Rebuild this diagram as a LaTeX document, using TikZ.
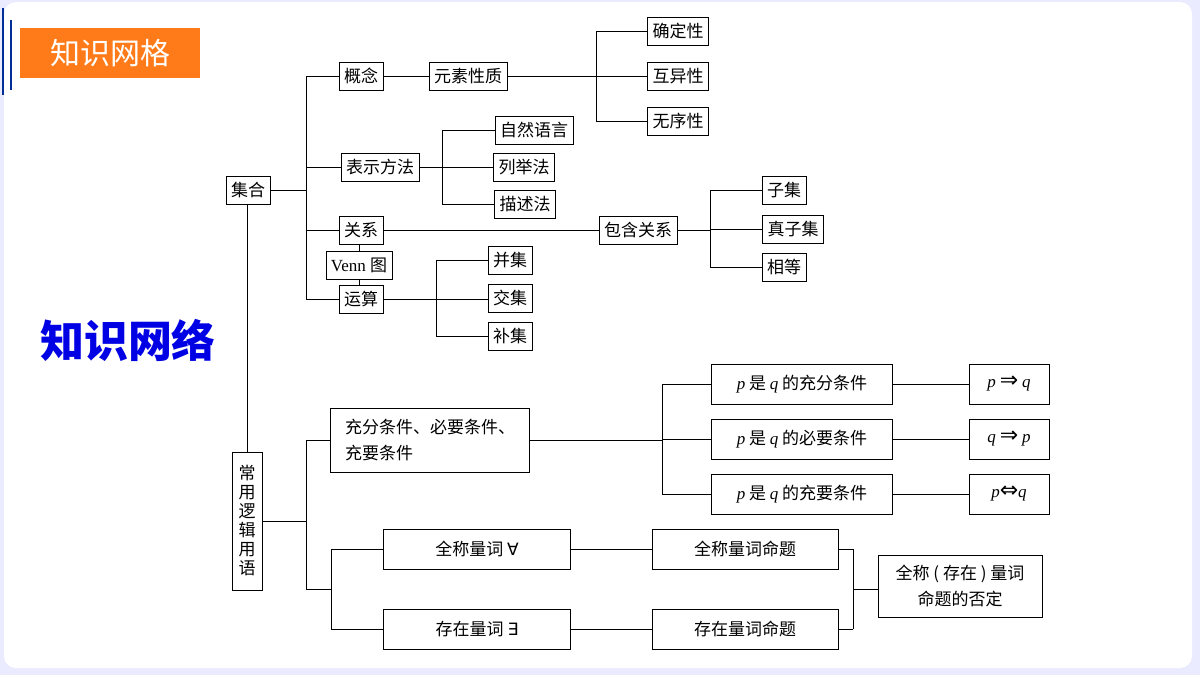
\documentclass[tikz,border=0pt]{standalone}
\usepackage{fontspec}
\setmainfont{Liberation Serif}
\newfontfamily\cjk{Noto Sans CJK SC}
\newfontfamily\sym{DejaVu Sans}
\newcommand{\vp}{{\rmfamily\itshape p}}
\newcommand{\vq}{{\rmfamily\itshape q}}
\newcommand{\arr}[1]{{\sym\fontsize{22}{22}\selectfont #1}}
\begin{document}
\begin{tikzpicture}[x=1pt,y=-1pt,
  bx/.style={draw,line width=0.8pt,minimum height=28pt,inner xsep=5pt,font=\fontsize{17}{20}\selectfont\cjk},
  bb/.style={bx,minimum height=40pt},
  ln/.style={line width=0.8pt}]
\useasboundingbox (0,0) rectangle (1200,675);
\fill[blue!8] (0,0) rectangle (1200,675);
\fill[white,rounded corners=12pt] (4,2) rectangle (1192,668);
\draw[blue!70!cyan!60!black,line width=2.5pt] (3,8) -- (3,95);
\draw[blue!70!cyan!60!black,line width=2pt] (11,20) -- (11,90);
\node[fill=orange!85!red!90,minimum width=180pt,minimum height=50pt,text=white,font=\fontsize{30}{34}\selectfont\cjk] (hd) at (110,53) {知识网格};
\node[text=blue!90!black,font=\fontsize{44}{50}\selectfont\cjk\bfseries] (kw) at (128,340) {知识网络};
% set tree
\node[bx] (jh) at (248,190) {集合};
\node[bx] (gn) at (361,76) {概念};
\node[bx] (ys) at (468,76) {元素性质};
\node[bx] (qd) at (678,31) {确定性};
\node[bx] (hy) at (678,76) {互异性};
\node[bx] (wx) at (678,121) {无序性};
\node[bx] (bs) at (380,167) {表示方法};
\node[bx] (zr) at (534,130) {自然语言};
\node[bx] (lj) at (524,167) {列举法};
\node[bx] (ms) at (525,204) {描述法};
\node[bx] (gx) at (361,230) {关系};
\node[bx] (vn) at (359,265) {\rmfamily Venn \cjk 图};
\node[bx] (ys2) at (361,299) {运算};
\node[bx] (bh) at (638,230) {包含关系};
\node[bx] (zj) at (784,190) {子集};
\node[bx] (zzj) at (793,229) {真子集};
\node[bx] (xd) at (784,267) {相等};
\node[bx] (bj) at (510,260) {并集};
\node[bx] (jj) at (510,298) {交集};
\node[bx] (bj2) at (510,336) {补集};
\draw[ln] (jh.east) -- (306,190);
\draw[ln] (306,76) -- (306,299);
\draw[ln] (306,76) -- (gn.west);
\draw[ln] (306,167) -- (bs.west);
\draw[ln] (306,230) -- (gx.west);
\draw[ln] (306,299) -- (ys2.west);
\draw[ln] (gn) -- (ys);
\draw[ln] (ys) -- (596,76);
\draw[ln] (596,31) -- (596,121);
\draw[ln] (596,31) -- (qd.west); \draw[ln] (596,76) -- (hy.west); \draw[ln] (596,121) -- (wx.west);
\draw[ln] (bs.east) -- (442,167);
\draw[ln] (442,130) -- (442,204);
\draw[ln] (442,130) -- (zr.west); \draw[ln] (442,167) -- (lj.west); \draw[ln] (442,204) -- (ms.west);
\draw[ln] (gx) -- (bh);
\draw[ln] (gx.south -| vn.north) -- (vn.north);
\draw[ln] (vn.south) -- (vn.south |- ys2.north);
\draw[ln] (bh.east) -- (710,230);
\draw[ln] (710,190) -- (710,267);
\draw[ln] (710,190) -- (zj.west); \draw[ln] (710,229) -- (zzj.west); \draw[ln] (710,267) -- (xd.west);
\draw[ln] (ys2.east) -- (bj2.west |- ys2.east);
\draw[ln] (436,260) -- (436,336);
\draw[ln] (436,260) -- (bj.west); \draw[ln] (436,336) -- (bj2.west);
% logic
\node[draw,line width=0.8pt,minimum width=30pt,minimum height=138pt,inner sep=2pt,align=center,font=\fontsize{17}{19}\selectfont\cjk] (cy) at (247,521) {常\\用\\逻\\辑\\用\\语};
\draw[ln] (jh.south -| cy.north) -- (cy.north);
\draw[ln] (cy.east) -- (306,521);
\draw[ln] (306,440) -- (306,589);
\node[draw,line width=0.8pt,minimum width=199pt,minimum height=64pt,align=left,font=\fontsize{17}{26}\selectfont\cjk] (cf) at (430,440) {充分条件、必要条件、\\充要条件};
\draw[ln] (306,440) -- (cf.west);
\node[bb,minimum width=181pt] (p1) at (802,384) {\vp\ 是 \vq\ 的充分条件};
\node[bb,minimum width=181pt] (p2) at (802,439) {\vp\ 是 \vq\ 的必要条件};
\node[bb,minimum width=181pt] (p3) at (802,494) {\vp\ 是 \vq\ 的充要条件};
\node[bb,minimum width=80pt,text depth=4pt] (r1) at (1009,384) {\vp\ \arr{⇒} \vq};
\node[bb,minimum width=80pt,text depth=4pt] (r2) at (1009,439) {\vq\ \arr{⇒} \vp};
\node[bb,minimum width=80pt,text depth=4pt] (r3) at (1009,494) {\vp\arr{⇔}\vq};
\draw[ln] (cf.east) -- (662,440);
\draw[ln] (662,384) -- (662,494);
\draw[ln] (662,384) -- (p1.west); \draw[ln] (662,439) -- (p2.west); \draw[ln] (662,494) -- (p3.west);
\draw[ln] (p1) -- (r1); \draw[ln] (p2) -- (r2); \draw[ln] (p3) -- (r3);
\node[bb,minimum width=187pt] (q1) at (477,549) {全称量词 {\sym ∀}};
\node[bb,minimum width=187pt] (q2) at (477,629) {存在量词 {\sym ∃}};
\node[bb,minimum width=186pt] (m1) at (745,549) {全称量词命题};
\node[bb,minimum width=186pt] (m2) at (745,629) {存在量词命题};
\node[draw,line width=0.8pt,minimum width=164pt,minimum height=62pt,align=center,font=\fontsize{17}{26}\selectfont\cjk] (fd) at (960,586) {全称 ( 存在 ) 量词\\命题的否定};
\draw[ln] (306,589) -- (331,589);
\draw[ln] (331,549) -- (331,629);
\draw[ln] (331,549) -- (q1.west); \draw[ln] (331,629) -- (q2.west);
\draw[ln] (q1) -- (m1); \draw[ln] (q2) -- (m2);
\draw[ln] (m1.east) -- (853,549); \draw[ln] (m2.east) -- (853,629);
\draw[ln] (853,549) -- (853,629);
\draw[ln] (853,589) -- (fd.west |- 853,589);
\end{tikzpicture}
\end{document}
